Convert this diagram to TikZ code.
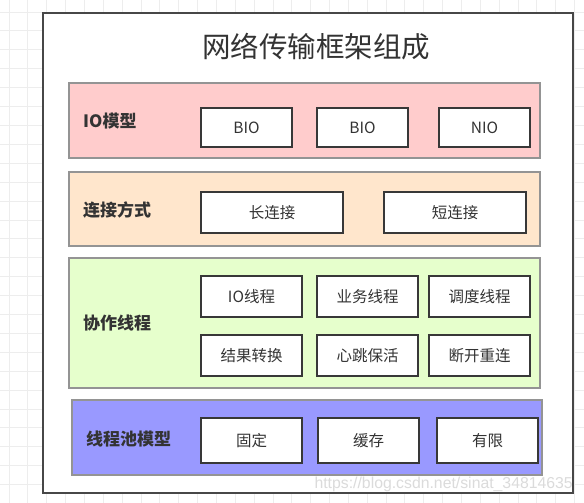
\documentclass[tikz,border=0pt]{standalone}
\usepackage{fontspec}
\setmainfont{Noto Sans CJK SC}
\newfontfamily\urlfont{Liberation Sans}
\usepackage{tikz}
\usetikzlibrary{positioning}
\definecolor{iopink}{HTML}{FFCCCC}
\definecolor{connpeach}{HTML}{FFE6CC}
\definecolor{thrgreen}{HTML}{E6FFCC}
\definecolor{poolblue}{HTML}{9999FF}
\definecolor{ink}{HTML}{333333}
\tikzset{
  gridline/.style={draw=black!7, line width=0.8pt},
  frame/.style={draw=black!72, line width=1.8pt, fill=white},
  band/.style={draw=black!42, line width=1.5pt, minimum width=471pt},
  bandlabel/.style={anchor=west, inner sep=0pt, text=ink, font=\fontsize{17}{17}\selectfont\bfseries},
  item/.style={draw=black!78, line width=1.8pt, fill=white, text=ink,
    font=\fontsize{15.5}{15.5}\selectfont, minimum width=101pt, minimum height=41pt},
}

\begin{document}
\begin{tikzpicture}[x=1pt, y=-1pt]
      \useasboundingbox (0,0) rectangle (584,503);
      \foreach \i in {0,...,30} \draw[gridline] (9+18.85*\i,0) -- (9+18.85*\i,503);
      \foreach \j in {0,...,25} \draw[gridline] (0,12+18.9*\j) -- (584,12+18.9*\j);

      \node[frame, minimum width=530pt, minimum height=480pt] (outer) at (308,253) {};
      \node[text=ink, font=\fontsize{28.5}{28.5}\selectfont] (title) at (316,47) {网络传输框架组成};

      \node[band, fill=iopink, minimum height=75pt] (io) at (304.5,120.5) {};
      \node[band, fill=connpeach, minimum height=74pt] (conn) at (304.5,209) {};
      \node[band, fill=thrgreen, minimum height=130pt] (thr) at (304.5,323) {};
      \node[band, fill=poolblue, minimum width=470pt, minimum height=75pt] (pool) at (307,437.5) {};

      \node[bandlabel] (iolabel)   at (83,121)   {IO模型};
      \node[bandlabel] (connlabel) at (83,210)   {连接方式};
      \node[bandlabel] (thrlabel)  at (83,323)   {协作线程};
      \node[bandlabel] (poollabel) at (86,439)   {线程池模型};

      \node[item, minimum width=91pt, minimum height=39pt] (bio1) at (246.5,127.5) {BIO};
      \node[item, minimum width=91pt, minimum height=39pt] (bio2) at (362.5,127.5) {BIO};
      \node[item, minimum width=91pt, minimum height=39pt] (nio)  at (484.5,127.5) {NIO};

      \node[item, minimum width=142pt] (longc)  at (272,212.5) {长连接};
      \node[item, minimum width=142pt] (shortc) at (455,212.5) {短连接};

      \node[item] (iothr)    at (251.5,296.5) {IO线程};
      \node[item] (bizthr)   at (367.5,296.5) {业务线程};
      \node[item] (schedthr) at (479.5,296.5) {调度线程};
      \node[item] (result)   at (251.5,355.5) {结果转换};
      \node[item] (beat)     at (367.5,355.5) {心跳保活};
      \node[item] (reconn)   at (479.5,355.5) {断开重连};

      \node[item, minimum height=45pt] (fixed)   at (251.5,440.5) {固定};
      \node[item, minimum height=45pt] (cached)  at (368.5,440.5) {缓存};
      \node[item, minimum height=45pt] (limited) at (487.5,440.5) {有限};

      \node[anchor=east, inner sep=0pt, text=black!14, font=\urlfont\fontsize{15.8}{15.8}\selectfont]
        (mark) at (573,484) {https://blog.csdn.net/sinat\_34814635};
    \end{tikzpicture}
\end{document}
